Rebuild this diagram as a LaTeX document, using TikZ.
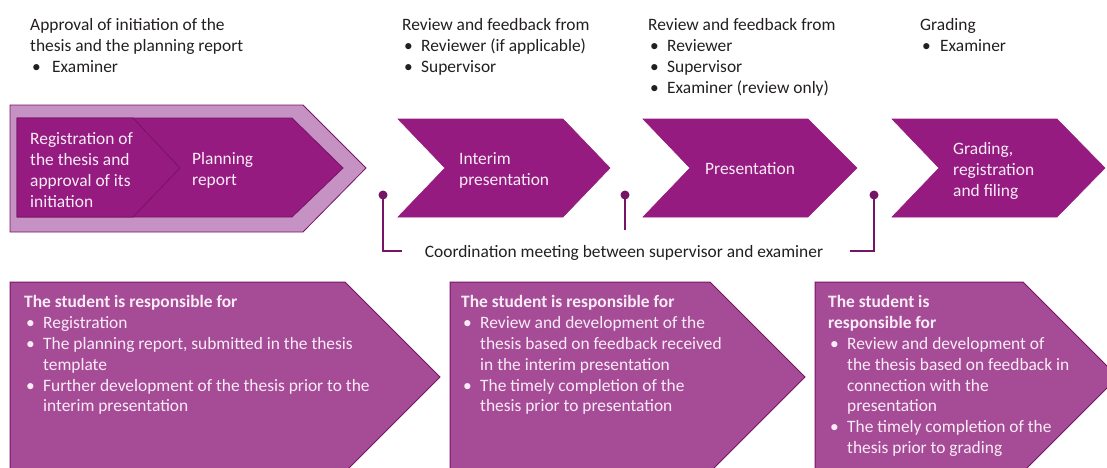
\documentclass[tikz,border=0pt]{standalone}
\usepackage{fontspec}
\setmainfont{Carlito}
\definecolor{pmain}{RGB}{149,27,129}
\definecolor{pdark}{RGB}{118,20,102}
\definecolor{plight}{RGB}{197,146,195}
\definecolor{pbox}{RGB}{166,76,151}
\definecolor{ptext}{RGB}{250,236,247}
\definecolor{ink}{RGB}{35,31,32}
\newcommand{\myfs}{\fontsize{17.4}{20.8}\selectfont}
\newcommand{\bl}[1][17pt]{\hspace*{2pt}\makebox[#1][l]{•}}
\newcommand{\ind}[1][19pt]{\hspace*{#1}}
\tikzset{
  chev/.style={fill=pmain, draw=pmain, line width=0.6pt, line join=miter},
  chevin/.style={fill=pmain, draw=pdark, line width=0.8pt, line join=miter},
  outerbox/.style={fill=plight, draw=pdark, line width=0.8pt, line join=miter},
  stud/.style={fill=pbox, draw=pdark, line width=1pt, line join=miter},
  wtxt/.style={text=ptext, inner sep=0pt, anchor=north west, align=left, font=\myfs},
  ktxt/.style={text=ink, inner sep=0pt, anchor=north west, align=left, font=\myfs},
  link/.style={draw=pdark, line width=2pt},
  mdot/.style={circle, fill=pdark, inner sep=0pt, minimum size=9pt},
}
\begin{document}
\begin{tikzpicture}[x=1pt,y=-1pt]
\useasboundingbox (0,0) rectangle (1107,467);
\clip (0,0) rectangle (1107,467);

% ---- top texts
\node[ktxt] (t1) at (30,18.5) {Approval of initiation of the\\thesis and the planning report\\\bl[20pt]Examiner};
\node[ktxt] (t2) at (402,18.5) {Review and feedback from\\\bl Reviewer (if applicable)\\\bl Supervisor};
\node[ktxt] (t3) at (648,18.5) {Review and feedback from\\\bl Reviewer\\\bl Supervisor\\\bl Examiner (review only)};
\node[ktxt] (t4) at (920,18.5) {Grading\\\bl[18pt]Examiner};

% ---- step 1 (combined)
\path[outerbox] (10,105) -- (303,105) -- (366,168) -- (303,232) -- (10,232) -- cycle;
\path[chevin] (17,118) -- (292,118) -- (343,168) -- (292,217) -- (17,217) -- cycle;
\path[chevin] (17,118) -- (133,118) -- (180,168) -- (133,217) -- (17,217) -- cycle;
\node[wtxt] (s1a) at (30,132.5) {Registration of\\the thesis and\\approval of its\\initiation};
\node[wtxt] (s1b) at (192,152.5) {Planning\\report};

% ---- steps 2-4
\path[chev] (398,119) -- (563,119) -- (610,168) -- (563,217) -- (398,217) -- (445,168) -- cycle;
\path[chev] (643,119) -- (808,119) -- (857,168) -- (808,217) -- (643,217) -- (690,168) -- cycle;
\path[chev] (892,119) -- (1057,119) -- (1105,168) -- (1057,217) -- (892,217) -- (939,168) -- cycle;
\node[wtxt] (s2) at (459,152.5) {Interim\\presentation};
\node[wtxt] (s3) at (705,162.5) {Presentation};
\node[wtxt] (s4) at (953,142.5) {Grading,\\registration\\and filing};

% ---- coordination meeting
\node[text=ink, inner sep=0pt, anchor=base, font=\myfs] (coord) at (624,257) {Coordination meeting between supervisor and examiner};
\node[mdot] (d1) at (383,195) {};
\node[mdot] (d2) at (625,195) {};
\node[mdot] (d3) at (874,195) {};
\coordinate (e1) at (402,251);
\coordinate (e2) at (625,230);
\coordinate (e3) at (850,251);
\draw[link] (d1.center) |- (e1);
\draw[link] (d2.center) -- (e2);
\draw[link] (d3.center) |- (e3);

% ---- bottom boxes
\path[stud] (10,282) -- (345,282) -- (440,377) -- (345,472) -- (10,472) -- cycle;
\path[stud] (450,282) -- (710,282) -- (805,377) -- (710,472) -- (450,472) -- cycle;
\path[stud] (815,282) -- (1023,282) -- (1118,377) -- (1023,472) -- (815,472) -- cycle;
\node[wtxt] (b1) at (24,295.5) {\textbf{The student is responsible for}\\
\bl Registration\\
\bl The planning report, submitted in the thesis\\
\ind template\\
\bl Further development of the thesis prior to the\\
\ind interim presentation};
\node[wtxt] (b2) at (461,295.5) {\textbf{The student is responsible for}\\
\bl Review and development of the\\
\ind thesis based on feedback received\\
\ind in the interim presentation\\
\bl The timely completion of the\\
\ind thesis prior to presentation};
\node[wtxt] (b3) at (828,295.5) {\textbf{The student is}\\
\textbf{responsible for}\\
\bl Review and development of\\
\ind the thesis based on feedback in\\
\ind connection with the\\
\ind presentation\\
\bl The timely completion of the\\
\ind thesis prior to grading};
\end{tikzpicture}
\end{document}
